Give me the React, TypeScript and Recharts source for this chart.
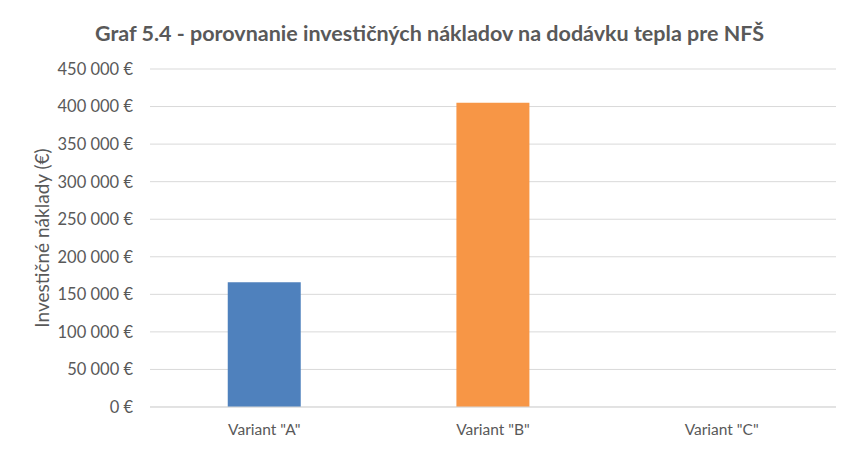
import { BarChart, Bar, XAxis, YAxis, CartesianGrid, Cell } from "recharts"

const categories = ['Variant "A"', 'Variant "B"', 'Variant "C"']
const costs = [166000, 405000, 0]
const barColors = ["#4F81BD", "#F79646", "#9BBB59"]
const yTicks = [0, 50000, 100000, 150000, 200000, 250000, 300000, 350000, 400000, 450000]

const data = categories.map((name, i) => ({ name, cost: costs[i] }))

const font = "Lato, 'Open Sans', sans-serif"
const textColor = "#595959"

const formatEuro = (v: number) => {
  if (v === 0) return "0 €"
  const s = String(v)
  return s.replace(/\B(?=(\d{3})+(?!\d))/g, " ") + " €"
}

export default function App() {
  return (
    <div style={{ position: "absolute", left: 0, top: 0, width: 859, height: 456, background: "#fff", fontFamily: font }}>
      <div
        style={{
          position: "absolute",
          top: 20,
          left: 0,
          width: 859,
          textAlign: "center",
          fontSize: 21.5,
          fontWeight: 700,
          color: textColor,
        }}
      >
        Graf 5.4 - porovnanie investičných nákladov na dodávku tepla pre NFŠ
      </div>
      <BarChart
        width={859}
        height={456}
        data={data}
        margin={{ top: 69, right: 23, bottom: 0, left: 0 }}
        barCategoryGap="34%"
      >
        <CartesianGrid vertical={false} stroke="#d9d9d9" />
        <XAxis
          dataKey="name"
          height={49}
          tickLine={false}
          axisLine={{ stroke: "#d9d9d9" }}
          tickSize={0}
          tickMargin={17}
          tick={{ fill: textColor, fontSize: 15.5, fontFamily: font }}
        />
        <YAxis
          width={150}
          domain={[0, 450000]}
          ticks={yTicks}
          interval={0}
          axisLine={false}
          tickLine={false}
          tickSize={0}
          tickMargin={17}
          tickFormatter={formatEuro}
          tick={{ fill: textColor, fontSize: 16.5, fontFamily: font }}
          label={{
            content: ({ viewBox }: any) => {
              const cy = viewBox.y + viewBox.height / 2
              return (
                <text
                  x={41}
                  y={cy}
                  transform={`rotate(-90, 41, ${cy})`}
                  textAnchor="middle"
                  dominantBaseline="central"
                  fill={textColor}
                  fontSize={19}
                  fontFamily={font}
                >
                  Investičné náklady (€)
                </text>
              )
            },
          }}
        />
        <Bar dataKey="cost" isAnimationActive={false}>
          {data.map((d, i) => (
            <Cell key={d.name} fill={barColors[i]} />
          ))}
        </Bar>
      </BarChart>
    </div>
  )
}
